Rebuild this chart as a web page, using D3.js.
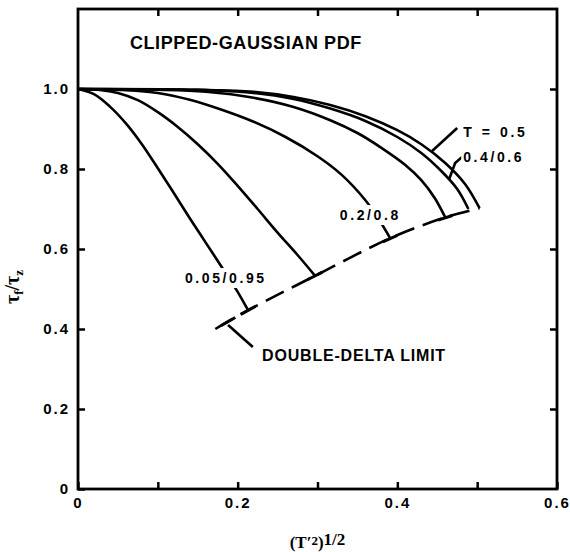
<!DOCTYPE html>
<html lang="en">
<head>
<meta charset="UTF-8">
<title>Clipped-Gaussian PDF</title>
<script src="https://d3js.org/d3.v7.min.js"></script>
<style>
  body { margin: 0; background: #fff; }
  svg text { font-family: "Liberation Sans", Arial, sans-serif; font-weight: bold; fill: #000; }
  .tick text { font-size: 15px; letter-spacing: 2px; }
  .tick line { stroke: #000; stroke-width: 2.5px; }
  .curve { fill: none; stroke: #000; stroke-width: 2.6px; }
  .lbl { font-size: 14px; letter-spacing: 2.6px; }
</style>
</head>
<body>
<div id="chart"></div>
<script>
// ticks
var xTicks = [0, 0.1, 0.2, 0.3, 0.4, 0.5, 0.6];
var xTickLabels = {0: "0", 0.2: "0.2", 0.4: "0.4", 0.6: "0.6"};
var yTicks = [0, 0.2, 0.4, 0.6, 0.8, 1.0];
var yTickLabels = ["0", "0.2", "0.4", "0.6", "0.8", "1.0"];

// curves: [rms fluctuation, tau_f/tau_z]
var curve005 = [[0,1],[0.02,0.987],[0.04,0.956],[0.06,0.914],[0.08,0.862],[0.10,0.802],[0.12,0.74],[0.14,0.677],[0.16,0.616],[0.18,0.555],[0.20,0.493],[0.213,0.447]];
var curve01 = [[0,1],[0.03,0.997],[0.05,0.99],[0.075,0.972],[0.10,0.942],[0.125,0.905],[0.15,0.862],[0.175,0.813],[0.20,0.758],[0.225,0.70],[0.25,0.641],[0.275,0.585],[0.297,0.533]];
var curve02 = [[0,1],[0.06,0.997],[0.10,0.99],[0.14,0.973],[0.18,0.948],[0.22,0.918],[0.26,0.88],[0.30,0.832],[0.33,0.786],[0.36,0.722],[0.376,0.677],[0.391,0.627]];
var curve03 = [[0,1],[0.10,0.998],[0.16,0.993],[0.22,0.978],[0.27,0.955],[0.316,0.922],[0.35,0.89],[0.38,0.853],[0.41,0.81],[0.43,0.772],[0.447,0.727],[0.46,0.679]];
var curve04 = [[0,1],[0.15,0.998],[0.22,0.99],[0.27,0.975],[0.316,0.951],[0.36,0.92],[0.40,0.88],[0.43,0.84],[0.455,0.795],[0.475,0.75],[0.489,0.70]];
var curve05 = [[0,1],[0.15,0.998],[0.22,0.993],[0.27,0.98],[0.316,0.96],[0.36,0.932],[0.40,0.897],[0.43,0.862],[0.46,0.815],[0.485,0.762],[0.503,0.702]];
var curves = [curve005, curve01, curve02, curve03, curve04, curve05];

// double-delta limit (dashed)
var limit = [[0.172,0.40],[0.213,0.447],[0.297,0.533],[0.391,0.627],[0.46,0.679],[0.503,0.702]];
var limitMarks = [0.188, 0.213, 0.297, 0.391, 0.46];

// text labels: [text, x, y(center)]
var labels = [
  ["T = 0.5", 0.4825, 0.8925],
  ["0.4/0.6", 0.4825, 0.83],
  ["0.2/0.8", 0.328, 0.685],
  ["0.05/0.95", 0.134, 0.5275]
];
var leaders = [
  [[0.475,0.9025],[0.4436,0.845]],
  [[0.4825,0.8325],[0.4724,0.815],[0.465,0.775]],
  [[0.188,0.41],[0.219,0.355]]
];

var W = 570, H = 552;
var svg = d3.select("#chart").append("svg").attr("width", W).attr("height", H);

var x = d3.scaleLinear().domain([0, 0.6]).range([78, 557]);
var y = d3.scaleLinear().domain([0, 1.2]).range([489, 9]);

// axes with inward ticks
svg.append("g").attr("transform", "translate(0,489)")
  .call(d3.axisBottom(x).tickValues(xTicks).tickSize(-7).tickPadding(8)
    .tickFormat(function(d) { return xTickLabels[d] || ""; }));
svg.append("g").attr("transform", "translate(0,9)")
  .call(d3.axisTop(x).tickValues(xTicks.slice(1, 6)).tickSize(-7).tickFormat(""));
svg.append("g").attr("transform", "translate(78,0)")
  .call(d3.axisLeft(y).tickValues(yTicks).tickSize(-7).tickPadding(8)
    .tickFormat(function(d, i) { return yTickLabels[i]; }));
svg.append("g").attr("transform", "translate(557,0)")
  .call(d3.axisRight(y).tickValues(yTicks.slice(1)).tickSize(-7).tickFormat(""));
svg.selectAll(".domain").remove();

svg.append("rect")
  .attr("x", x(0)).attr("y", y(1.2))
  .attr("width", x(0.6) - x(0)).attr("height", y(0) - y(1.2))
  .attr("fill", "none").attr("stroke", "#000").attr("stroke-width", 2.8);

var line = d3.line().x(function(d) { return x(d[0]); }).y(function(d) { return y(d[1]); })
  .curve(d3.curveCatmullRom.alpha(0.5));

svg.selectAll(".curve").data(curves).enter().append("path")
  .attr("class", "curve").attr("d", line);

// dashed limit line
svg.append("path").attr("class", "curve").attr("d", line(limit))
  .attr("stroke-width", 3).attr("stroke-dasharray", "20,9");

// solid bits where curves meet the limit
var limitY = d3.scaleLinear().domain(limit.map(function(d) { return d[0]; }))
  .range(limit.map(function(d) { return d[1]; }));
svg.selectAll(".mark").data(limitMarks).enter().append("line")
  .attr("x1", function(d) { return x(d - 0.009); })
  .attr("y1", function(d) { return y(limitY(d - 0.009)); })
  .attr("x2", function(d) { return x(d + 0.009); })
  .attr("y2", function(d) { return y(limitY(d + 0.009)); })
  .attr("stroke", "#000").attr("stroke-width", 3);

var straight = d3.line().x(function(d) { return x(d[0]); }).y(function(d) { return y(d[1]); });
svg.selectAll(".leader").data(leaders).enter().append("path")
  .attr("class", "curve").attr("stroke-width", 2.4).attr("d", straight);

// curve labels with white background that breaks the line underneath
labels.forEach(function(l) {
  var t = svg.append("text").attr("class", "lbl")
    .attr("x", x(l[1])).attr("y", y(l[2])).attr("dy", "0.36em")
    .style("word-spacing", l[0] == "T = 0.5" ? "1px" : null)
    .text(l[0]);
  var b = t.node().getBBox();
  svg.insert("rect", function() { return t.node(); })
    .attr("x", b.x - 2).attr("y", b.y - 2)
    .attr("width", b.width + 2).attr("height", b.height + 4)
    .attr("fill", "#fff");
});

svg.append("text")
  .attr("x", x(0.2306)).attr("y", y(0.335)).attr("dy", "0.36em")
  .style("letter-spacing", "0.8px").style("font-size", "16px")
  .text("DOUBLE-DELTA LIMIT");

svg.append("text")
  .attr("x", x(0.065)).attr("y", y(1.115)).attr("dy", "0.36em")
  .style("font-size", "18px").style("letter-spacing", "0.6px")
  .text("CLIPPED-GAUSSIAN PDF");

// axis titles
var xt = svg.append("text").attr("x", x(0.3)).attr("y", 548).attr("text-anchor", "middle")
  .style("font-family", "'Liberation Serif', serif").style("font-size", "17px");
xt.append("tspan").text("(T\u2032");
xt.append("tspan").attr("dy", -3).style("font-size", "13px").text("2");
xt.append("tspan").attr("dy", 3).text(")");
xt.append("tspan").attr("dy", -3).text("1/2");

var yt = svg.append("text").attr("transform", "translate(19,287) rotate(-90)")
  .attr("text-anchor", "middle")
  .style("font-family", "'Liberation Serif', serif").style("font-size", "20px");
yt.append("tspan").text("\u03c4");
yt.append("tspan").attr("dy", 4).style("font-size", "13px").text("f");
yt.append("tspan").attr("dy", -4).text("/\u03c4");
yt.append("tspan").attr("dy", 4).style("font-size", "13px").text("z");
</script>
</body>
</html>
